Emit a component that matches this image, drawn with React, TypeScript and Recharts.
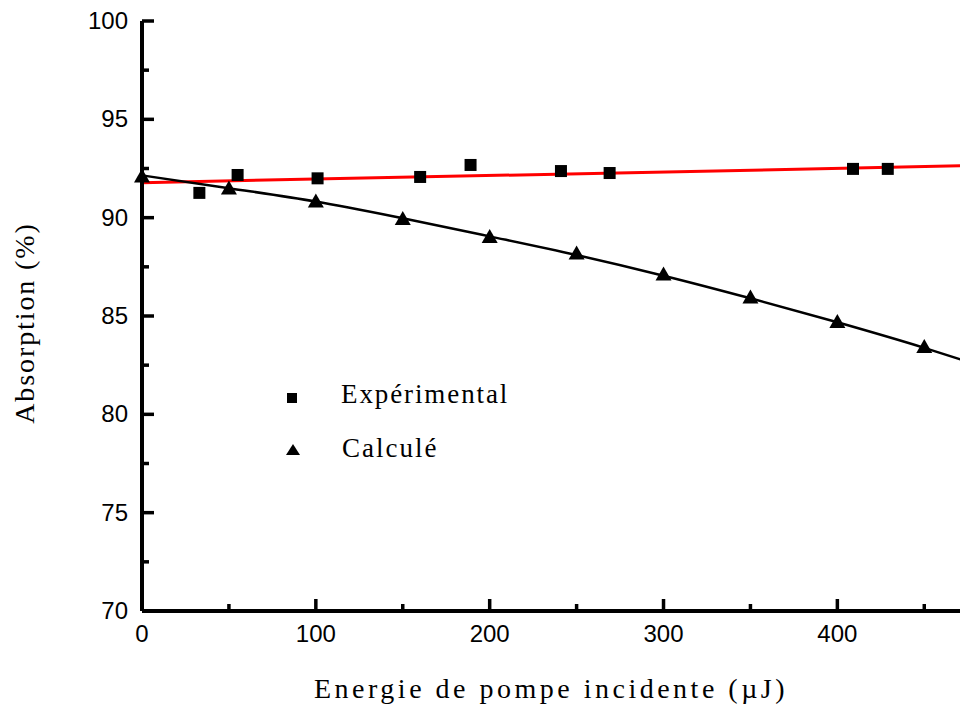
import { ComposedChart, XAxis, YAxis, Scatter, Line, Legend, Label } from "recharts";

// measured points (squares)
const expEnergy = [33, 55, 101, 160, 189, 241, 269, 409, 429];
const expAbsorption = [91.26, 92.17, 92.0, 92.07, 92.68, 92.37, 92.27, 92.48, 92.48];

// calculated points (triangles)
const calcEnergy = [0, 50, 100, 150, 200, 250, 300, 350, 400, 450];
const calcAbsorption = [92.07, 91.46, 90.8, 89.91, 88.99, 88.15, 87.09, 85.92, 84.67, 83.4];

// fitted curves
const calcFitEnergy = [0, 50, 100, 150, 200, 250, 300, 350, 400, 450, 474];
const calcFitAbsorption = [92.15, 91.5, 90.82, 89.97, 89.05, 88.1, 87.05, 85.9, 84.68, 83.38, 82.7];
const linFitEnergy = [0, 474];
const linFitAbsorption = [91.78, 92.64];

const xTicks = [0, 50, 100, 150, 200, 250, 300, 350, 400, 450];
const yTicks = [70, 72.5, 75, 77.5, 80, 82.5, 85, 87.5, 90, 92.5, 95, 97.5, 100];

const legendLabels = ["Expérimental", "Calculé"];

const toPoints = (xs: number[], ys: number[]) => xs.map((x, i) => ({ x, y: ys[i] }));

const expData = toPoints(expEnergy, expAbsorption);
const calcData = toPoints(calcEnergy, calcAbsorption);
const calcFitData = toPoints(calcFitEnergy, calcFitAbsorption);
const linFitData = toPoints(linFitEnergy, linFitAbsorption);

const SANS = "'Liberation Sans', Arial, sans-serif";
const SERIF = "'Liberation Serif', 'Times New Roman', serif";

const isMajorX = (v: number) => v % 100 === 0;
const isMajorY = (v: number) => v % 5 === 0;

const TICK_W = 3.5;
const AXIS = { stroke: "#000", strokeWidth: 4 };

const BottomTick = ({ x, y, payload }: any) => {
  const major = isMajorX(payload.value);
  return (
    <g>
      <line x1={x} x2={x} y1={y} y2={y - (major ? 12 : 7)} stroke="#000" strokeWidth={TICK_W} />
      {major && (
        <text x={x} y={y + 31} textAnchor="middle" fontFamily={SANS} fontSize={24} fill="#000">
          {payload.value}
        </text>
      )}
    </g>
  );
};

const TopTick = ({ x, y, payload }: any) => {
  const major = isMajorX(payload.value);
  return <line x1={x} x2={x} y1={y} y2={y + (major ? 12 : 7)} stroke="#000" strokeWidth={TICK_W} />;
};

const LeftTick = ({ x, y, payload }: any) => {
  const major = isMajorY(payload.value);
  return (
    <g>
      <line x1={x} x2={x + (major ? 12 : 7)} y1={y} y2={y} stroke="#000" strokeWidth={TICK_W} />
      {major && (
        <text x={x - 14} y={y + 8} textAnchor="end" fontFamily={SANS} fontSize={24} fill="#000">
          {payload.value}
        </text>
      )}
    </g>
  );
};

const RightTick = ({ x, y, payload }: any) => {
  const major = isMajorY(payload.value);
  return <line x1={x} x2={x - (major ? 12 : 7)} y1={y} y2={y} stroke="#000" strokeWidth={TICK_W} />;
};

const SquareDot = ({ cx, cy }: any) => <rect x={cx - 6} y={cy - 6} width={12} height={12} fill="#000" />;

const TriangleDot = ({ cx, cy }: any) => (
  <polygon points={`${cx},${cy - 8.5} ${cx - 8},${cy + 5.5} ${cx + 8},${cy + 5.5}`} fill="#000" />
);

const LegendBox = () => (
  <svg width={960} height={715}>
    <rect x={287} y={393} width={10} height={10} fill="#000" />
    <text x={341} y={403} fontFamily={SERIF} fontSize={27} letterSpacing={1.9} fill="#000">
      {legendLabels[0]}
    </text>
    <polygon points="293,444 286,455 300,455" fill="#000" />
    <text x={342} y={457} fontFamily={SERIF} fontSize={27} letterSpacing={2} fill="#000">
      {legendLabels[1]}
    </text>
  </svg>
);

export default function App() {
  return (
    <div style={{ position: "absolute", left: 0, top: 0, width: 960, height: 715, overflow: "hidden", background: "#fff" }}>
      <ComposedChart width={966} height={715} margin={{ top: 21, right: 0, bottom: 0, left: 0 }}>
        <XAxis
          xAxisId="bottom"
          dataKey="x"
          type="number"
          domain={[0, 474]}
          ticks={xTicks}
          interval={0}
          height={104}
          tickSize={0}
          tickMargin={0}
          tickLine={false}
          stroke="#000"
          strokeWidth={4}
          axisLine={AXIS}
          tick={<BottomTick />}
        >
          <Label
            content={() => (
              <text x={551} y={698} textAnchor="middle" fontFamily={SERIF} fontSize={28} letterSpacing={3.5} fill="#000">
                Energie de pompe incidente (µJ)
              </text>
            )}
          />
        </XAxis>
        <XAxis
          xAxisId="top"
          orientation="top"
          dataKey="x"
          type="number"
          domain={[0, 474]}
          ticks={xTicks}
          interval={0}
          height={0}
          tickSize={0}
          tickMargin={0}
          tickLine={false}
          stroke="#000"
          strokeWidth={4}
          axisLine={AXIS}
          tick={<TopTick />}
        />
        <YAxis
          yAxisId="left"
          dataKey="y"
          type="number"
          domain={[70, 100]}
          ticks={yTicks}
          interval={0}
          width={142}
          tickSize={0}
          tickMargin={0}
          tickLine={false}
          stroke="#000"
          strokeWidth={4}
          axisLine={AXIS}
          tick={<LeftTick />}
        >
          <Label
            content={() => (
              <text
                x={34}
                y={323}
                transform="rotate(-90, 34, 323)"
                textAnchor="middle"
                fontFamily={SERIF}
                fontSize={28}
                letterSpacing={1.9}
                fill="#000"
              >
                Absorption (%)
              </text>
            )}
          />
        </YAxis>
        <YAxis
          yAxisId="right"
          orientation="right"
          dataKey="y"
          type="number"
          domain={[70, 100]}
          ticks={yTicks}
          interval={0}
          width={0}
          tickSize={0}
          tickMargin={0}
          tickLine={false}
          stroke="#000"
          strokeWidth={4}
          axisLine={AXIS}
          tick={<RightTick />}
        />
        <Line
          xAxisId="bottom"
          yAxisId="left"
          data={linFitData}
          dataKey="y"
          type="linear"
          stroke="#ff0000"
          strokeWidth={3}
          dot={false}
          activeDot={false}
          isAnimationActive={false}
        />
        <Line
          xAxisId="bottom"
          yAxisId="left"
          data={calcFitData}
          dataKey="y"
          type="monotone"
          stroke="#000"
          strokeWidth={2.5}
          dot={false}
          activeDot={false}
          isAnimationActive={false}
        />
        <Scatter
          xAxisId="bottom"
          yAxisId="left"
          data={expData}
          dataKey="y"
          shape={<SquareDot />}
          isAnimationActive={false}
        />
        <Scatter
          xAxisId="bottom"
          yAxisId="left"
          data={calcData}
          dataKey="y"
          shape={<TriangleDot />}
          isAnimationActive={false}
        />
        <Legend
          layout="vertical"
          align="center"
          verticalAlign="middle"
          wrapperStyle={{ left: 0, top: 0, width: 960, height: 715, pointerEvents: "none" }}
          content={() => <LegendBox />}
        />
      </ComposedChart>
    </div>
  );
}
